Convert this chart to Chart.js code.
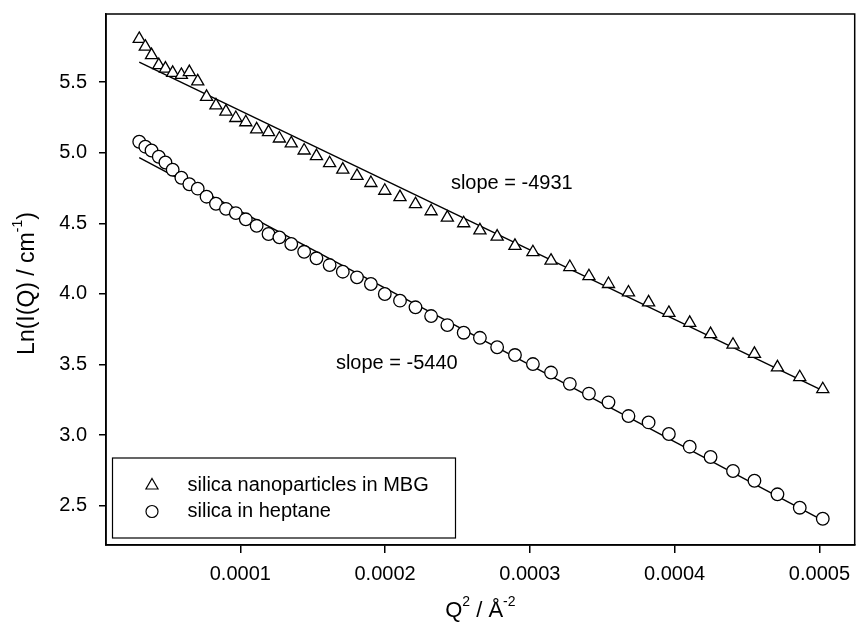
<!DOCTYPE html>
<html>
<head>
<meta charset="utf-8">
<script src="https://cdn.jsdelivr.net/npm/chart.js@4.4.0/dist/chart.umd.min.js"></script>
<style>
  html, body { margin: 0; padding: 0; background: #fff; }
  #wrap { width: 863px; height: 633px; }
</style>
</head>
<body>
<div id="wrap"><canvas id="chart" width="863" height="633"></canvas></div>
<script>
(function () {
  "use strict";

  /* ---- data ------------------------------------------------------ */
  var q2 = [
    0.302e-4, 0.344e-4, 0.387e-4, 0.437e-4, 0.483e-4, 0.533e-4, 0.593e-4, 0.648e-4,
    0.706e-4, 0.767e-4, 0.832e-4, 0.901e-4, 0.969e-4, 1.038e-4, 1.113e-4, 1.195e-4,
    1.270e-4, 1.352e-4, 1.441e-4, 1.526e-4, 1.617e-4, 1.708e-4, 1.806e-4, 1.902e-4,
    1.998e-4, 2.103e-4, 2.210e-4, 2.318e-4, 2.430e-4, 2.543e-4, 2.655e-4, 2.774e-4,
    2.897e-4, 3.021e-4, 3.146e-4, 3.276e-4, 3.408e-4, 3.543e-4, 3.681e-4, 3.820e-4,
    3.960e-4, 4.104e-4, 4.248e-4, 4.403e-4, 4.551e-4, 4.710e-4, 4.864e-4, 5.023e-4
  ];
  var mbg = [
    5.805, 5.750, 5.690, 5.620, 5.595, 5.565, 5.550, 5.570,
    5.505, 5.395, 5.335, 5.290, 5.245, 5.215, 5.165, 5.145,
    5.100, 5.065, 5.015, 4.975, 4.925, 4.880, 4.835, 4.785,
    4.730, 4.685, 4.635, 4.585, 4.540, 4.500, 4.450, 4.405,
    4.340, 4.295, 4.235, 4.190, 4.125, 4.070, 4.010, 3.940,
    3.865, 3.795, 3.715, 3.640, 3.575, 3.480, 3.410, 3.325
  ];
  var heptane = [
    5.077, 5.042, 5.015, 4.971, 4.930, 4.879, 4.822, 4.776,
    4.745, 4.688, 4.638, 4.602, 4.572, 4.528, 4.482, 4.424,
    4.400, 4.353, 4.298, 4.252, 4.204, 4.157, 4.117, 4.070,
    3.999, 3.952, 3.905, 3.843, 3.779, 3.725, 3.689, 3.622,
    3.567, 3.503, 3.443, 3.363, 3.294, 3.232, 3.135, 3.090,
    3.008, 2.918, 2.845, 2.746, 2.677, 2.581, 2.486, 2.408
  ];
  var fitQ2 = [0.302e-4, 5.023e-4];
  var mbgFit = [5.640, 3.315];
  var heptaneFit = [4.964, 2.396];

  var seriesNames = ["silica nanoparticles in MBG", "silica in heptane"];
  var slopeLabels = ["slope = -4931", "slope = -5440"];
  var slopeAtQ2 = [2.875e-4, 2.081e-4];
  var slopeAtLn = [4.783, 3.508];

  var xTicks = [0.0001, 0.0002, 0.0003, 0.0004, 0.0005];
  var yTicks = [2.5, 3.0, 3.5, 4.0, 4.5, 5.0, 5.5];

  /* ---- helpers ------------------------------------------------------ */
  var FONT = "'Liberation Sans', Arial, Helvetica, sans-serif";
  var pts = function (xs, ys) {
    return xs.map(function (x, i) { return { x: x, y: ys[i] }; });
  };
  var noPad = function (s) {
    s.paddingLeft = s.paddingRight = s.paddingTop = s.paddingBottom = 0;
  };

  // text with raised small parts, centred on (0,0) of the current transform
  var drawRich = function (ctx, parts, size) {
    var supSize = Math.round(size * 0.62);
    var w = 0;
    parts.forEach(function (p) {
      ctx.font = (p.sup ? supSize : size) + "px " + FONT;
      p.w = ctx.measureText(p.t).width;
      w += p.w;
    });
    var x = -w / 2;
    ctx.textBaseline = "middle";
    ctx.textAlign = "left";
    parts.forEach(function (p) {
      ctx.font = (p.sup ? supSize : size) + "px " + FONT;
      ctx.fillText(p.t, x, p.sup ? -size * 0.42 : 0);
      x += p.w;
    });
  };

  /* ---- frame, notes, legend, axis titles --------------------------- */
  var decor = {
    id: "decor",
    afterDraw: function (chart) {
      var ctx = chart.ctx;
      var a = chart.chartArea;
      var xs = chart.scales.x, ys = chart.scales.y;
      ctx.save();
      ctx.fillStyle = "#000";
      ctx.strokeStyle = "#000";

      // closed box round the plot
      ctx.lineWidth = 1.5;
      ctx.strokeRect(a.left, a.top, a.right - a.left, a.bottom - a.top);

      // slope notes
      ctx.font = "20px " + FONT;
      ctx.textAlign = "center";
      ctx.textBaseline = "middle";
      slopeLabels.forEach(function (t, i) {
        ctx.fillText(t, xs.getPixelForValue(slopeAtQ2[i]), ys.getPixelForValue(slopeAtLn[i]));
      });

      // legend box, lower left inside the plot
      var lx = a.left + 6.5, ly = a.bottom - 87, lw = 343, lh = 80;
      ctx.fillStyle = "#fff";
      ctx.fillRect(lx, ly, lw, lh);
      ctx.lineWidth = 1.2;
      ctx.strokeRect(lx, ly, lw, lh);
      var rows = [
        { style: "triangle", r: 7, dy: 27.5 },
        { style: "circle", r: 6, dy: 53.5 }
      ];
      rows.forEach(function (row, i) {
        ctx.fillStyle = "#fff";
        ctx.lineWidth = 1.2;
        Chart.helpers.drawPoint(ctx, { pointStyle: row.style, radius: row.r, borderWidth: 1.2 },
          lx + 39.5, ly + row.dy);
        ctx.fillStyle = "#000";
        ctx.font = "20px " + FONT;
        ctx.textAlign = "left";
        ctx.textBaseline = "middle";
        ctx.fillText(seriesNames[i], lx + 75, ly + row.dy);
      });

      // axis titles
      ctx.fillStyle = "#000";
      ctx.save();
      ctx.translate((a.left + a.right) / 2, 611);
      drawRich(ctx, [{ t: "Q" }, { t: "2", sup: true }, { t: " / Å" }, { t: "-2", sup: true }], 22);
      ctx.restore();

      ctx.save();
      ctx.translate(28, (a.top + a.bottom) / 2 + 4);
      ctx.rotate(-Math.PI / 2);
      drawRich(ctx, [{ t: "Ln(I(Q) / cm" }, { t: "-1", sup: true }, { t: ")" }], 23);
      ctx.restore();

      ctx.restore();
    }
  };

  /* ---- chart -------------------------------------------------------- */
  Chart.defaults.font.family = FONT;
  Chart.defaults.color = "#000";

  new Chart(document.getElementById("chart"), {
    type: "scatter",
    data: {
      datasets: [
        {
          label: seriesNames[0],
          data: pts(q2, mbg),
          pointStyle: "triangle",
          pointRadius: 7,
          borderColor: "#000",
          backgroundColor: "#fff",
          borderWidth: 1.3,
          order: 1
        },
        {
          label: seriesNames[1],
          data: pts(q2, heptane),
          pointStyle: "circle",
          pointRadius: 6.3,
          borderColor: "#000",
          backgroundColor: "#fff",
          borderWidth: 1.3,
          order: 1
        },
        {
          label: "fit MBG",
          data: pts(fitQ2, mbgFit),
          showLine: true,
          pointRadius: 0,
          borderColor: "#000",
          borderWidth: 1.4,
          order: 2
        },
        {
          label: "fit heptane",
          data: pts(fitQ2, heptaneFit),
          showLine: true,
          pointRadius: 0,
          borderColor: "#000",
          borderWidth: 1.4,
          order: 2
        }
      ]
    },
    options: {
      responsive: false,
      animation: false,
      layout: { padding: { top: 14, right: 1, left: 0, bottom: 0 } },
      plugins: {
        legend: { display: false },
        tooltip: { enabled: false }
      },
      scales: {
        x: {
          type: "linear",
          min: 7.25e-6,
          max: 5.2435e-4,
          afterBuildTicks: function (s) {
            s.ticks = xTicks.map(function (v) { return { value: v }; });
          },
          afterFit: function (s) { s.height = 88; noPad(s); },
          grid: { drawOnChartArea: false, tickLength: 8, color: "#000", lineWidth: 1.5 },
          border: { color: "#000", width: 1.5 },
          ticks: {
            autoSkip: false,
            maxRotation: 0,
            padding: 9,
            font: { size: 20 },
            callback: function (v) { return Number(v).toFixed(4); }
          }
        },
        y: {
          type: "linear",
          min: 2.222,
          max: 5.9815,
          afterBuildTicks: function (s) {
            s.ticks = yTicks.map(function (v) { return { value: v }; });
          },
          afterFit: function (s) { s.width = 106; noPad(s); },
          grid: { drawOnChartArea: false, tickLength: 7, color: "#000", lineWidth: 1.5 },
          border: { color: "#000", width: 1.5 },
          ticks: {
            padding: 12,
            font: { size: 20 },
            callback: function (v) { return Number(v).toFixed(1); }
          }
        }
      }
    },
    plugins: [decor]
  });
})();
</script>
</body>
</html>
